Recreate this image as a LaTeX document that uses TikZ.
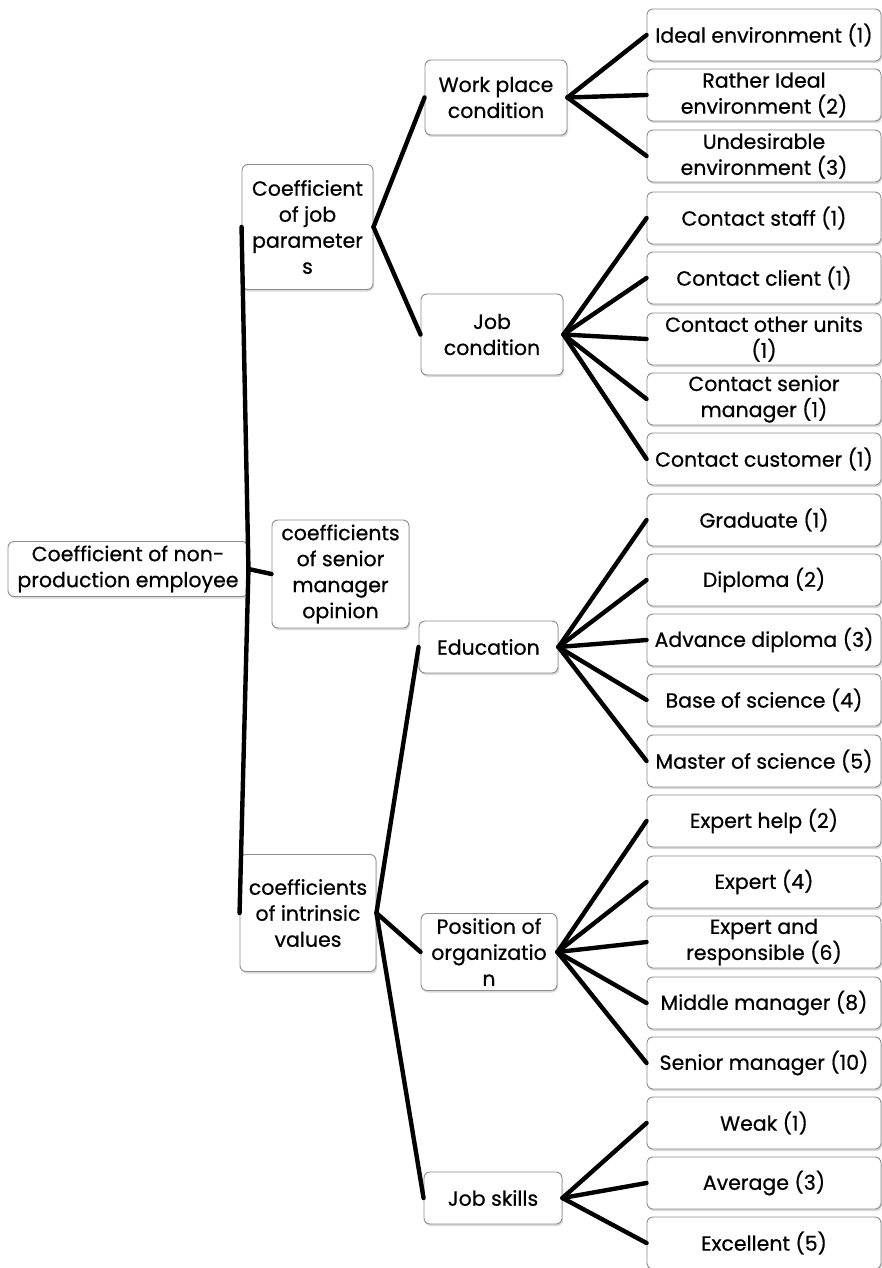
\documentclass[tikz,border=0pt]{standalone}
\usepackage{fontspec}
\setmainfont{Poppins}[FakeBold=0.6]
\usetikzlibrary{shapes,positioning,shadows}

\begin{document}
\begin{tikzpicture}[x=1pt, y=-1pt,
  box/.style={draw=black!45, line width=0.9pt, fill=white, rectangle, rounded corners=6pt, align=center, inner sep=0pt,
    font=\fontsize{20.5}{26}\selectfont,
    drop shadow={opacity=0.3, shadow xshift=1pt, shadow yshift=-2pt}},
  leaf/.style={box, minimum width=234pt, minimum height=52pt},
  link/.style={line width=4.4pt, line cap=round}]
\useasboundingbox (0,0) rectangle (881,1268);

% Wurzel
\node[box, minimum width=240pt, minimum height=55pt] (root) at (128,569) {Coefficient of non-\\production employee};

% Ebene 1
\node[box, minimum width=131pt, minimum height=125pt] (jobpar) at (307.5,227) {Coefficient\\of job\\parameter\\s};
\node[box, minimum width=137pt, minimum height=108pt] (opinion) at (340.5,574) {coefficients\\of senior\\manager\\opinion};
\node[box, minimum width=136pt, minimum height=117pt] (intrinsic) at (308,913) {coefficients\\of intrinsic\\values};

% Ebene 2
\node[box, minimum width=142pt, minimum height=75pt] (workplace) at (496,97.5) {Work place\\condition};
\node[box, minimum width=142pt, minimum height=81pt] (jobcond) at (492,334.5) {Job\\condition};
\node[box, minimum width=139pt, minimum height=52pt] (education) at (488.5,647) {Education};
\node[box, minimum width=136pt, minimum height=77pt] (position) at (489,952) {Position of\\organizatio\\n};
\node[box, minimum width=138pt, minimum height=52pt] (skills) at (493,1198) {Job skills};

% Blaetter
\node[leaf] (ideal) at (764,35) {Ideal environment (1)};
\node[leaf] (ratherideal) at (764,95) {Rather Ideal\\environment (2)};
\node[leaf] (undesirable) at (764,156) {Undesirable\\environment (3)};
\node[leaf] (staff) at (764,218) {Contact staff (1)};
\node[leaf] (client) at (764,278) {Contact client (1)};
\node[leaf] (units) at (764,339) {Contact other units\\(1)};
\node[leaf] (senior) at (764,399) {Contact senior\\manager (1)};
\node[leaf] (customer) at (764,459) {Contact customer (1)};
\node[leaf] (graduate) at (764,520) {Graduate (1)};
\node[leaf] (diploma) at (764,580) {Diploma (2)};
\node[leaf] (advdiploma) at (764,640) {Advance diploma (3)};
\node[leaf] (basesci) at (764,700) {Base of science (4)};
\node[leaf] (mastersci) at (764,761) {Master of science (5)};
\node[leaf] (experthelp) at (764,821) {Expert help (2)};
\node[leaf] (expert) at (764,882) {Expert (4)};
\node[leaf] (expertresp) at (764,942) {Expert and\\responsible (6)};
\node[leaf] (middlemgr) at (764,1003) {Middle manager (8)};
\node[leaf] (seniormgr) at (764,1063) {Senior manager (10)};
\node[leaf] (weak) at (764,1123) {Weak (1)};
\node[leaf] (average) at (764,1183) {Average (3)};
\node[leaf] (excellent) at (764,1243) {Excellent (5)};

% Verbindungen
\draw[link] (root.east) -- (jobpar.west);
\draw[link] (root.east) -- (opinion.west);
\draw[link] (root.east) -- (intrinsic.west);
\draw[link] (jobpar.east) -- (workplace.west);
\draw[link] (jobpar.east) -- (jobcond.west);
\draw[link] (intrinsic.east) -- (education.west);
\draw[link] (intrinsic.east) -- (position.west);
\draw[link] (intrinsic.east) -- (skills.west);
\draw[link] (workplace.east) -- (ideal.west);
\draw[link] (workplace.east) -- (ratherideal.west);
\draw[link] (workplace.east) -- (undesirable.west);
\draw[link] (jobcond.east) -- (staff.west);
\draw[link] (jobcond.east) -- (client.west);
\draw[link] (jobcond.east) -- (units.west);
\draw[link] (jobcond.east) -- (senior.west);
\draw[link] (jobcond.east) -- (customer.west);
\draw[link] (education.east) -- (graduate.west);
\draw[link] (education.east) -- (diploma.west);
\draw[link] (education.east) -- (advdiploma.west);
\draw[link] (education.east) -- (basesci.west);
\draw[link] (education.east) -- (mastersci.west);
\draw[link] (position.east) -- (experthelp.west);
\draw[link] (position.east) -- (expert.west);
\draw[link] (position.east) -- (expertresp.west);
\draw[link] (position.east) -- (middlemgr.west);
\draw[link] (position.east) -- (seniormgr.west);
\draw[link] (skills.east) -- (weak.west);
\draw[link] (skills.east) -- (average.west);
\draw[link] (skills.east) -- (excellent.west);
\end{tikzpicture}
\end{document}
